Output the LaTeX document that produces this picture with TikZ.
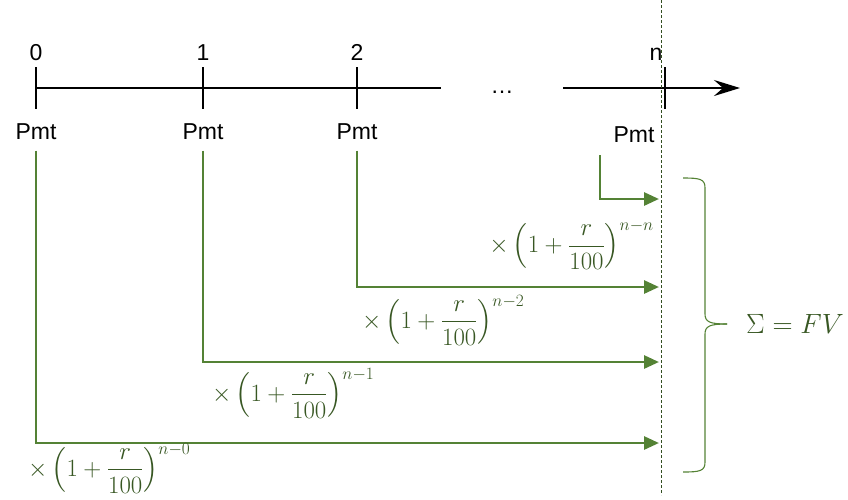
\documentclass[tikz,border=0pt]{standalone}
\usepackage{amsmath}
\usepackage{graphicx}
\usepackage{fontspec}
\setmainfont{Liberation Sans}
\usetikzlibrary{arrows.meta,positioning}
\definecolor{arrgreen}{RGB}{84,130,53}
\definecolor{txtgreen}{RGB}{56,87,35}
\begin{document}
\begin{tikzpicture}[
  x=1pt, y=-1pt,
  font=\fontsize{23}{27}\selectfont,
  axis/.style={line width=2.4pt},
  tickmark/.style={line width=2.4pt},
  num/.style={anchor=base, inner sep=2pt},
  pmt/.style={anchor=base},
  flow/.style={draw=arrgreen, line width=2.8pt,
               -{Triangle[length=15pt,width=13pt]}},
  fac/.style={text=txtgreen, inner sep=0pt, font=\fontsize{24}{28}\selectfont},
  brace/.style={draw=arrgreen, line width=1.1pt},
]
\useasboundingbox (0,0) rectangle (848,499);
% time line
\coordinate (k0) at (36,88);
\coordinate (k1) at (203,88);
\coordinate (k2) at (357,88);
\coordinate (kn) at (665,88);
\coordinate (gapl) at (441,88);
\coordinate (gapr) at (563,88);
\coordinate (axend) at (740,88);
\draw[axis] (k0) -- (gapl);
\draw[axis, -{Stealth[length=26pt,width=16pt,inset=9pt]}] (gapr) -- (axend);
\foreach \k in {k0,k1,k2,kn}
  \draw[tickmark] ([yshift=21pt]\k) -- ([yshift=-21pt]\k);
\node[anchor=base] (dots) at (502,93) {…};
\node[num] (t0) at (36,60) {0};
\node[num] (t1) at (203,60) {1};
\node[num] (t2) at (357,60) {2};
\node[num] (tn) at (656,60) {n};
\node[pmt] (p0) at (36,139) {Pmt};
\node[pmt] (p1) at (203,139) {Pmt};
\node[pmt] (p2) at (357,139) {Pmt};
\node[pmt] (pn) at (634,142) {Pmt};
% horizon n
\coordinate (htop) at (661,0);
\coordinate (hbot) at (661,495);
\draw[draw=arrgreen!60!black, line width=0.7pt, dash pattern=on 3pt off 2pt] (htop) -- (hbot);
\coordinate (sn) at (600,155);
\coordinate (en) at (659,199);
\coordinate (e2) at (659,287);
\coordinate (e1) at (659,362);
\coordinate (e0) at (659,443);
\draw[flow] (sn) |- (en);
\draw[flow] ([yshift=-8pt]p2.south) |- (e2);
\draw[flow] ([yshift=-8pt]p1.south) |- (e1);
\draw[flow] ([yshift=-8pt]p0.south) |- (e0);
\node[fac, anchor=east] (fn) at (654,245)
  {$\times\left(1+\dfrac{r}{100}\right)^{n-n}$};
\node[fac, anchor=west] (f2) at (362,320)
  {$\times\left(1+\dfrac{r}{100}\right)^{n-2}$};
\node[fac, anchor=west] (f1) at (212,393)
  {$\times\left(1+\dfrac{r}{100}\right)^{n-1}$};
\node[fac, anchor=west] (f0) at (28,468)
  {$\times\left(1+\dfrac{r}{100}\right)^{n-0}$};
% sum
\coordinate (btop) at (683,178);
\coordinate (btip) at (727,324);
\coordinate (bbot) at (683,472);
\draw[brace] (btop) .. controls (700,178) and (705,179) .. (705,188)
  -- (705,314) .. controls (705,322) and (710,324) .. (btip);
\draw[brace] (btip) .. controls (710,324) and (705,326) .. (705,334)
  -- (705,462) .. controls (705,471) and (700,472) .. (bbot);
\node[text=txtgreen, anchor=west, inner sep=0pt,
      font=\fontsize{24}{28}\selectfont] (fv) at (746,324)
  {\scalebox{1.12}{$\Sigma = FV$}};
\end{tikzpicture}
\end{document}
